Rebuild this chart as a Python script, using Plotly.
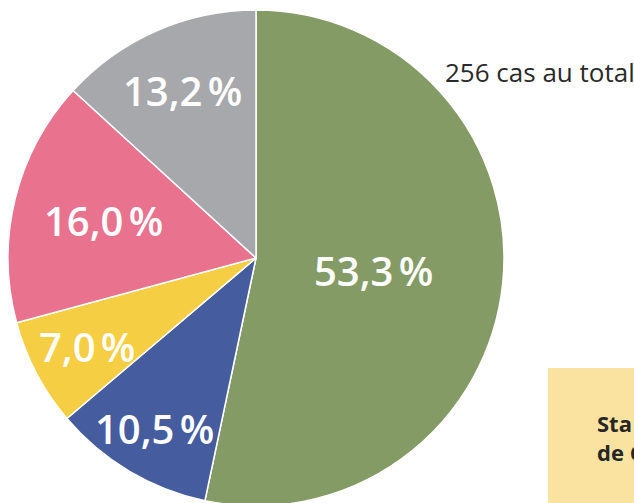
import math
import plotly.graph_objects as go

# Data
categories = ["Vert", "Bleu", "Jaune", "Rose", "Gris"]
values = [53.3, 10.5, 7.0, 16.0, 13.2]
value_labels = ["53,3\u202f%", "10,5\u202f%", "7,0\u202f%", "16,0\u202f%", "13,2\u202f%"]
total_text = "256 cas au total"
box_lines = ["Sta", "de C"]

# Styles
colors = ["#849B65", "#455C9F", "#F6CE44", "#E9728F", "#A7A8AC"]
label_radius = [0.476, 0.80, 0.77, 0.634, 0.74]  # radial placement of each label (fraction of radius)

# Figure is slightly taller than the window so the pie runs off the bottom edge
W, H = 634, 506
cx, cy, r = 256.0, 258.0, 248.0  # pie centre / radius in figure pixels

fig = go.Figure()
fig.add_trace(go.Pie(
    labels=categories,
    values=values,
    textinfo="none",
    marker=dict(colors=colors, line=dict(color="white", width=1.5)),
    sort=False,
    direction="clockwise",
    rotation=0,
    showlegend=False,
    hoverinfo="skip",
    domain=dict(x=[(cx - r) / W, (cx + r) / W],
                y=[max(0.0, (H - (cy + r)) / H), (H - (cy - r)) / H]),
))

# Value labels placed at the mid-angle of each slice
total = sum(values)
cum = 0.0
for v, lab, rf in zip(values, value_labels, label_radius):
    mid = cum + v / 2
    cum += v
    theta = math.radians(90 - mid / total * 360)
    px = cx + rf * r * math.cos(theta)
    py = cy - rf * r * math.sin(theta)
    fig.add_annotation(
        x=px / W, y=1 - py / H, xref="paper", yref="paper",
        xanchor="center", yanchor="middle", showarrow=False,
        text=lab,
        font=dict(family="Open Sans", size=40, color="white", weight=600),
    )

fig.add_annotation(
    x=443 / W, y=1 - 72 / H, xref="paper", yref="paper",
    xanchor="left", yanchor="middle", showarrow=False,
    text=total_text, font=dict(family="Open Sans", size=26, color="#2A2A2A"),
)

fig.add_shape(type="rect", xref="paper", yref="paper",
              x0=548 / W, x1=1.05, y0=-0.05, y1=1 - 368 / H,
              fillcolor="#FAE3A1", line=dict(width=0), layer="below")
fig.add_annotation(
    x=595 / W, y=1 - 437 / H, xref="paper", yref="paper",
    xanchor="left", yanchor="middle", showarrow=False, align="left",
    text="<b>" + "<br>".join(box_lines) + "</b>",
    font=dict(family="Open Sans", size=22, color="#262626"),
)

fig.update_layout(
    width=W, height=H,
    margin=dict(l=0, r=0, t=0, b=0),
    paper_bgcolor="white", plot_bgcolor="white",
)

# Remove the default page margin so the figure sits at the window's top-left corner
fig.write_html(
    "out.html",
    config={"displayModeBar": False},
    post_script="document.body.style.margin='0';document.body.style.overflow='hidden';",
)
